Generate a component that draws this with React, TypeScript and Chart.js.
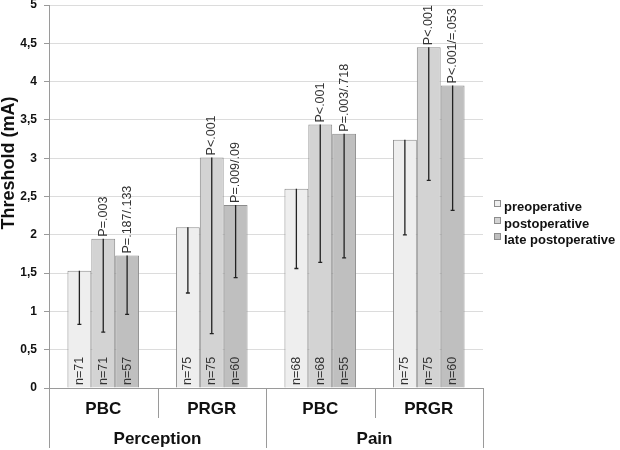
import React, { useEffect, useRef } from "react";
import { Chart, registerables } from "chart.js";

Chart.register(...registerables);

const categories = ["PBC", "PRGR", "PBC", "PRGR"];
const groups = ["Perception", "Pain"];
const seriesNames = ["preoperative", "postoperative", "late postoperative"];

const preValues = [1.53, 2.1, 2.6, 3.24];
const preLower = [0.83, 1.24, 1.56, 2.0];
const postValues = [1.95, 3.01, 3.44, 4.45];
const postLower = [0.73, 0.71, 1.64, 2.71];
const lateValues = [1.73, 2.39, 3.32, 3.95];
const lateLower = [0.96, 1.44, 1.7, 2.32];

const preN = ["n=71", "n=75", "n=68", "n=75"];
const postN = ["n=71", "n=75", "n=68", "n=75"];
const lateN = ["n=57", "n=60", "n=55", "n=60"];

const postP = ["P=.003", "P<.001", "P<.001", "P<.001"];
const lateP = ["P=.187/.133", "P=.009/.09", "P=.003/.718", "P<.001/=.053"];

const colors = ["#eeeeee", "#d3d3d3", "#bfbfbf"];
const FONT = "'Liberation Sans', Arial, Helvetica, sans-serif";

const lowers = [preLower, postLower, lateLower];
const nLabels = [preN, postN, lateN];
const pLabels: (string[] | null)[] = [null, postP, lateP];

const overlayPlugin = {
  id: "overlay",
  afterDatasetsDraw(chart: any) {
    const ctx = chart.ctx;
    const y = chart.scales.y;
    const x = chart.scales.x;
    const area = chart.chartArea;
    ctx.save();
    chart.data.datasets.forEach((ds: any, di: number) => {
      const meta = chart.getDatasetMeta(di);
      meta.data.forEach((bar: any, i: number) => {
        const cx = bar.x;
        const top = y.getPixelForValue(ds.data[i]);
        const low = y.getPixelForValue(lowers[di][i]);
        ctx.strokeStyle = "#222";
        ctx.lineWidth = 1.3;
        ctx.beginPath();
        ctx.moveTo(cx, top);
        ctx.lineTo(cx, low);
        ctx.moveTo(cx - 2, low);
        ctx.lineTo(cx + 2, low);
        ctx.stroke();

        ctx.fillStyle = "#333";
        ctx.font = `12.5px ${FONT}`;
        ctx.textBaseline = "middle";
        ctx.textAlign = "left";
        ctx.save();
        ctx.translate(cx, area.bottom - 3);
        ctx.rotate(-Math.PI / 2);
        ctx.fillText(nLabels[di][i], 0, 0);
        ctx.restore();

        const pl = pLabels[di];
        if (pl) {
          ctx.save();
          ctx.translate(cx, top - 2);
          ctx.rotate(-Math.PI / 2);
          ctx.fillText(pl[i], 0, 0);
          ctx.restore();
        }
      });
    });

    const n = categories.length;
    const centers = categories.map((_, i) => x.getPixelForValue(i));
    const bounds: number[] = [area.left];
    for (let i = 1; i < n; i++) bounds.push((centers[i - 1] + centers[i]) / 2);
    bounds.push(area.right);
    ctx.strokeStyle = "#9a9a9a";
    ctx.lineWidth = 1;
    bounds.forEach((bx, i) => {
      const full = i % 2 === 0;
      ctx.beginPath();
      ctx.moveTo(Math.round(bx) + 0.5, area.bottom);
      ctx.lineTo(Math.round(bx) + 0.5, full ? area.bottom + 60 : area.bottom + 30);
      ctx.stroke();
    });
    ctx.fillStyle = "#111";
    ctx.font = `bold 17px ${FONT}`;
    ctx.textAlign = "center";
    ctx.textBaseline = "middle";
    categories.forEach((c, i) => {
      ctx.fillText(c, (bounds[i] + bounds[i + 1]) / 2, area.bottom + 21);
    });
    groups.forEach((g, gi) => {
      ctx.fillText(g, (bounds[gi * 2] + bounds[gi * 2 + 2]) / 2, area.bottom + 51);
    });

    ctx.save();
    ctx.font = `bold 18px ${FONT}`;
    ctx.translate(9, 163);
    ctx.rotate(-Math.PI / 2);
    ctx.fillText("Threshold (mA)", 0, 0);
    ctx.restore();

    const lx = 494;
    const ly = [207, 224, 240];
    ctx.font = `bold 13px ${FONT}`;
    ctx.textAlign = "left";
    seriesNames.forEach((s, i) => {
      ctx.fillStyle = colors[i];
      ctx.fillRect(lx, ly[i] - 7, 7, 7);
      ctx.strokeStyle = "#8c8c8c";
      ctx.strokeRect(lx + 0.5, ly[i] - 6.5, 6, 6);
      ctx.fillStyle = "#111";
      ctx.fillText(s, lx + 10, ly[i]);
    });
    ctx.restore();
  },
};

export default function App() {
  const ref = useRef<HTMLCanvasElement>(null);
  useEffect(() => {
    if (!ref.current) return;
    const values = [preValues, postValues, lateValues];
    const chart = new Chart(ref.current, {
      type: "bar",
      data: {
        labels: categories,
        datasets: seriesNames.map((name, i) => ({
          label: name,
          data: values[i],
          backgroundColor: colors[i],
          borderColor: "#8c8c8c",
          borderWidth: 1,
          borderSkipped: "bottom",
          categoryPercentage: 0.66,
          barPercentage: 1,
        })),
      },
      options: {
        animation: false,
        responsive: true,
        maintainAspectRatio: false,
        layout: { padding: { top: 5, right: 137, left: 0, bottom: 0 } },
        plugins: { legend: { display: false }, tooltip: { enabled: false } },
        scales: {
          x: {
            grid: { display: false },
            border: { display: true, color: "#9a9a9a" },
            ticks: { display: false },
            afterFit: (s: any) => {
              s.height = 62;
              s.paddingLeft = 0;
              s.paddingRight = 0;
            },
          },
          y: {
            min: 0,
            max: 5,
            ticks: {
              stepSize: 0.5,
              padding: 7,
              color: "#111",
              font: { family: FONT, size: 12, weight: "bold" },
              callback: (v: any) => String(v).replace(".", ","),
            },
            grid: { color: "#dcdcdc", tickLength: 5, tickColor: "#9a9a9a" },
            border: { display: true, color: "#9a9a9a" },
            afterFit: (s: any) => {
              s.width = 49;
              s.paddingTop = 0;
              s.paddingBottom = 0;
            },
          },
        },
      },
      plugins: [overlayPlugin],
    });
    return () => chart.destroy();
  }, []);
  return (
    <div style={{ position: "absolute", left: 0, top: 0, width: 620, height: 450, background: "#fff" }}>
      <canvas ref={ref} />
    </div>
  );
}
